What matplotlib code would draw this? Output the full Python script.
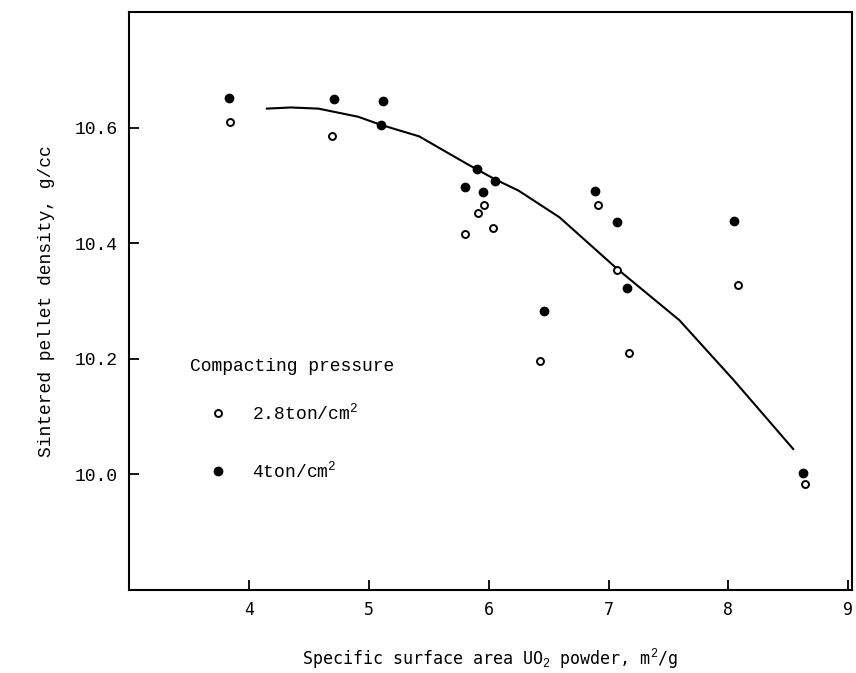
import numpy as np
import matplotlib
matplotlib.use("Agg")
import matplotlib.pyplot as plt

plt.rcParams['font.family'] = ['Liberation Mono', 'DejaVu Sans Mono']
plt.rcParams['mathtext.fontset'] = 'custom'
plt.rcParams['mathtext.rm'] = 'Liberation Mono'

# 2.8 ton/cm2 (open circles)
x_low = [3.84, 4.69, 5.80, 5.91, 5.96, 6.04, 6.43, 6.91, 7.07, 7.17, 8.08, 8.64]
y_low = [10.610, 10.586, 10.416, 10.453, 10.467, 10.426, 10.197, 10.467, 10.353, 10.211, 10.327, 9.984]

# 4 ton/cm2 (filled circles)
x_high = [3.835, 4.71, 5.12, 5.10, 5.80, 5.90, 5.95, 6.05, 6.46, 6.89, 7.07, 7.15, 8.05, 8.62]
y_high = [10.652, 10.650, 10.647, 10.605, 10.498, 10.528, 10.488, 10.508, 10.282, 10.491, 10.437, 10.322, 10.438, 10.003]

# fitted curve
x_fit = [4.15, 4.35, 4.58, 4.91, 5.10, 5.42, 5.83, 6.05, 6.25, 6.59, 7.07, 7.59, 8.04, 8.54]
y_fit = [10.633, 10.635, 10.633, 10.619, 10.605, 10.585, 10.536, 10.511, 10.491, 10.445, 10.356, 10.267, 10.164, 10.044]

xticks = [4, 5, 6, 7, 8, 9]
yticks = [10.0, 10.2, 10.4, 10.6]

fig = plt.figure(figsize=(8.56, 6.73), dpi=100)
ax = fig.add_axes([0.1507, 0.1233, 0.8446, 0.8587])

ax.plot(x_fit, y_fit, color='black', lw=1.5)
ax.plot(x_low, y_low, 'o', ms=5, mfc='white', mec='black', mew=1.4, ls='none')
ax.plot(x_high, y_high, 'o', ms=6, mfc='black', mec='black', ls='none')

ax.set_xlim(3.0, 9.03)
ax.set_ylim(9.8, 10.8)
ax.set_xticks(xticks)
ax.set_yticks(yticks)
ax.set_xticklabels([str(t) for t in xticks], family='DejaVu Sans Mono', fontsize=12)
ax.set_yticklabels(['%.1f' % t for t in yticks], fontsize=13)
ax.tick_params(direction='in', length=7, width=1.3, pad=8)
for s in ax.spines.values():
    s.set_linewidth(1.5)

ax.set_xlabel(r'Specific surface area UO$_{\mathrm{2}}$ powder, m$^{\mathrm{2}}$/g',
              family='DejaVu Sans Mono', fontsize=12, labelpad=20)
ax.set_ylabel('Sintered pellet density, g/cc', fontsize=13, labelpad=14)

# legend drawn by hand
ax.text(0.0844, 0.3875, 'Compacting pressure', transform=ax.transAxes,
        fontsize=13, va='center', ha='left')
ax.plot([0.1235], [0.306], 'o', ms=5, mfc='white', mec='black', mew=1.4,
        transform=ax.transAxes)
ax.plot([0.1235], [0.206], 'o', ms=6, mfc='black', mec='black',
        transform=ax.transAxes)
ax.text(0.170, 0.306, r'2.8ton/cm$^{\mathrm{2}}$', transform=ax.transAxes,
        fontsize=13, va='center', ha='left')
ax.text(0.170, 0.206, r'4ton/cm$^{\mathrm{2}}$', transform=ax.transAxes,
        fontsize=13, va='center', ha='left')

plt.savefig('out.png', dpi=100)
